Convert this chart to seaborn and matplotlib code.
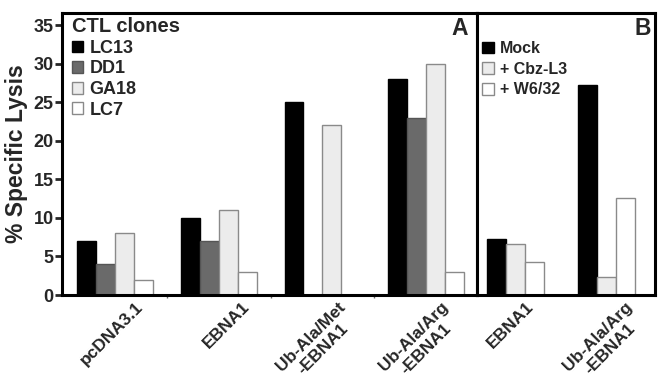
import numpy as np
import pandas as pd
import seaborn as sns
import matplotlib.pyplot as plt
import matplotlib.transforms as mtransforms
from matplotlib.patches import Patch

# panel A data
constructs_a = ['pcDNA3.1', 'EBNA1', 'Ub-Ala/Met\n-EBNA1', 'Ub-Ala/Arg\n-EBNA1']
clones = ['LC13', 'DD1', 'GA18', 'LC7']
lc13 = [7, 10, 25, 28]
dd1 = [4, 7, np.nan, 23]
ga18 = [8, 11, 22, 30]
lc7 = [2, 3, np.nan, 3]

# panel B data
constructs_b = ['EBNA1', 'Ub-Ala/Arg\n-EBNA1']
treatments = ['Mock', '+ Cbz-L3', '+ W6/32']
mock = [7.3, 27.3]
cbz = [6.6, 2.3]
w632 = [4.3, 12.6]

fill_a = ['#000000', '#6a6a6a', '#ececec', '#ffffff']
edge_a = ['#000000', '#555555', '#8a8a8a', '#8a8a8a']
fill_b = ['#000000', '#ececec', '#ffffff']
edge_b = ['#000000', '#8a8a8a', '#8a8a8a']

# how far (px) each rotated tick label sits right of its group
label_shift_a = [20, 23, 15, 14]
label_shift_b = [10, 18]

sns.set_style('white')
plt.rcParams['font.family'] = ['Liberation Sans', 'DejaVu Sans']
plt.rcParams['font.weight'] = 'bold'

df_a = pd.DataFrame({
    'construct': constructs_a * 4,
    'clone': np.repeat(clones, 4),
    'lysis': lc13 + dd1 + ga18 + lc7,
})
df_b = pd.DataFrame({
    'construct': constructs_b * 3,
    'treatment': np.repeat(treatments, 2),
    'lysis': mock + cbz + w632,
})

fig = plt.figure(figsize=(6.58, 3.84), dpi=100)
ax_a = fig.add_axes([62 / 658, 89 / 384, 415 / 658, 282 / 384])
ax_b = fig.add_axes([477 / 658, 89 / 384, 178 / 658, 282 / 384])

sns.barplot(data=df_a, x='construct', y='lysis', hue='clone', hue_order=clones,
            palette=fill_a, width=0.73, ax=ax_a, legend=False)
sns.barplot(data=df_b, x='construct', y='lysis', hue='treatment', hue_order=treatments,
            palette=fill_b, width=0.63, ax=ax_b, legend=False)

for ax, edges, shifts in [(ax_a, edge_a, label_shift_a), (ax_b, edge_b, label_shift_b)]:
    for cont, ec in zip(ax.containers, edges):
        for bar in cont:
            bar.set_edgecolor(ec)
            bar.set_linewidth(1.0)
    ax.set_ylim(0, 36.6)
    ax.set_xlabel('')
    ax.set_ylabel('')
    for sp in ax.spines.values():
        sp.set_visible(True)
        sp.set_linewidth(2.2)
        sp.set_color('black')
    ax.tick_params(axis='x', length=0, labelsize=12.5, pad=3)
    for lab, dx in zip(ax.get_xticklabels(), shifts):
        lab.set_rotation(45)
        lab.set_ha('right')
        lab.set_rotation_mode('anchor')
        lab.set_multialignment('center')
        lab.set_linespacing(1.25)
        lab.set_fontweight('bold')
        off = mtransforms.ScaledTranslation(dx / 100, 0, fig.dpi_scale_trans)
        lab.set_transform(lab.get_transform() + off)

ax_a.set_xlim(-0.51, 3.49)
ax_b.set_xlim(-0.43, 1.54)

ax_a.set_yticks([0, 5, 10, 15, 20, 25, 30, 35])
ax_a.tick_params(axis='y', left=True, length=5, width=2, labelsize=13, pad=1)
for lab in ax_a.get_yticklabels():
    lab.set_fontweight('bold')
ax_a.set_ylabel('% Specific Lysis', fontsize=16.5, fontweight='bold', labelpad=4)
ax_a.set_xticks([0.5, 1.5, 2.5], minor=True)
ax_a.tick_params(axis='x', which='minor', bottom=True, length=2, width=1, color='#666666')

ax_b.set_yticks([])

ax_a.text(0.978, 0.985, 'A', transform=ax_a.transAxes, ha='right', va='top',
          fontsize=16.5, fontweight='bold')
ax_b.text(0.975, 0.985, 'B', transform=ax_b.transAxes, ha='right', va='top',
          fontsize=16.5, fontweight='bold')

handles_a = [Patch(facecolor=f, edgecolor=e, label=l) for f, e, l in zip(fill_a, edge_a, clones)]
leg_a = ax_a.legend(handles=handles_a, title='CTL clones', loc='upper left',
                    bbox_to_anchor=(0.024, 0.985), frameon=False, fontsize=13,
                    handlelength=0.62, handleheight=0.62, handletextpad=0.35,
                    labelspacing=0.2, borderpad=0.0, borderaxespad=0.0)
leg_a.get_title().set_fontsize(14.5)
leg_a.get_title().set_fontweight('bold')
leg_a._legend_box.align = 'left'
for t in leg_a.get_texts():
    t.set_fontweight('bold')

handles_b = [Patch(facecolor=f, edgecolor=e, label=l) for f, e, l in zip(fill_b, edge_b, treatments)]
leg_b = ax_b.legend(handles=handles_b, loc='upper left', bbox_to_anchor=(0.03, 0.9),
                    frameon=False, fontsize=11.5, handlelength=0.75, handleheight=0.75,
                    handletextpad=0.35, labelspacing=0.35, borderpad=0.0, borderaxespad=0.0)
for t in leg_b.get_texts():
    t.set_fontweight('bold')

fig.savefig('out.png', dpi=100)
